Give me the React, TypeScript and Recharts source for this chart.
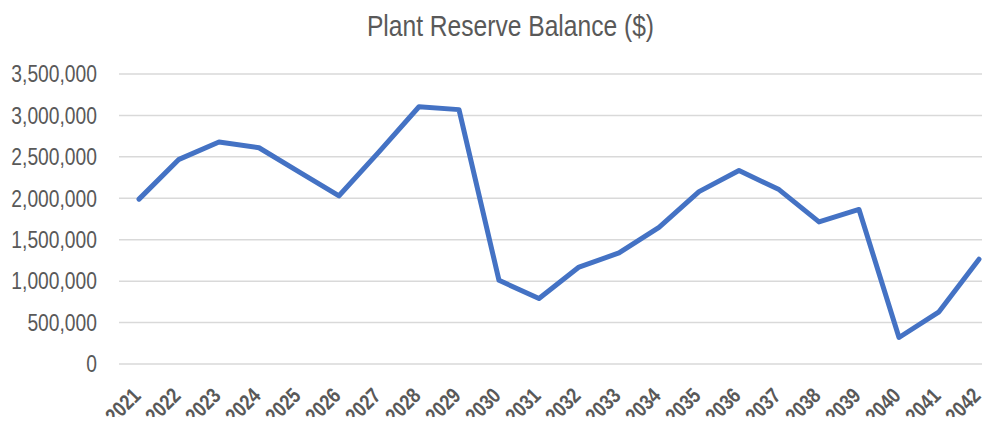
import { LineChart, Line, XAxis, YAxis, CartesianGrid } from "recharts";

const years = [
  "2021", "2022", "2023", "2024", "2025", "2026", "2027", "2028", "2029", "2030", "2031",
  "2032", "2033", "2034", "2035", "2036", "2037", "2038", "2039", "2040", "2041", "2042",
];

const balance = [
  1990000, 2470000, 2680000, 2610000, 2320000, 2030000, 2560000, 3105000, 3070000, 1010000, 790000,
  1170000, 1340000, 1650000, 2080000, 2335000, 2105000, 1715000, 1865000, 320000, 630000, 1265000,
];

const yTicks = [0, 500000, 1000000, 1500000, 2000000, 2500000, 3000000, 3500000];

// Arial Narrow look-alike: Liberation Sans squeezed horizontally
const FONT = '"Liberation Sans", Arial, sans-serif';
const NARROW = 0.82;

const data = years.map((year, i) => ({ year, value: balance[i] }));

const YearTick = (props: any) => {
  const { x, y, payload } = props;
  return (
    <g transform={`translate(${x + 3},${y + 33})`}>
      <text
        transform={`rotate(-45) scale(${NARROW},1)`}
        textAnchor="end"
        fill="#595959"
        fontFamily={FONT}
        fontWeight="bold"
        fontSize={21.5}
      >
        {payload.value}
      </text>
    </g>
  );
};

const ValueTick = (props: any) => {
  const { x, y, payload } = props;
  return (
    <text
      transform={`translate(${x},${y}) scale(${NARROW},1)`}
      textAnchor="end"
      dy="0.355em"
      fill="#595959"
      fontFamily={FONT}
      fontSize={23.5}
    >
      {Number(payload.value).toLocaleString("en-US")}
    </text>
  );
};

const App = () => {
  return (
    <div
      style={{
        position: "relative",
        margin: -8,
        width: 990,
        height: 425,
        overflow: "hidden",
        background: "#fff",
      }}
    >
      <div
        style={{
          position: "absolute",
          left: 0,
          top: 11,
          width: 1021,
          textAlign: "center",
          fontFamily: FONT,
          fontSize: 30,
          lineHeight: "30px",
          color: "#595959",
          transform: `scaleX(${NARROW})`,
        }}
      >
        Plant Reserve Balance ($)
      </div>
      <LineChart
        width={1010}
        height={425}
        data={data}
        margin={{ top: 74, right: 11, bottom: 0, left: 0 }}
      >
        <CartesianGrid vertical={false} stroke="#d9d9d9" strokeWidth={1.5} />
        <XAxis
          dataKey="year"
          interval={0}
          height={61}
          padding={{ left: 20, right: 20 }}
          axisLine={false}
          tickLine={false}
          tickSize={0}
          tickMargin={0}
          tick={<YearTick />}
        />
        <YAxis
          width={119}
          domain={[0, 3500000]}
          ticks={yTicks}
          axisLine={false}
          tickLine={false}
          tickSize={0}
          tickMargin={22}
          tick={<ValueTick />}
        />
        <Line
          type="linear"
          dataKey="value"
          stroke="#4472c4"
          strokeWidth={5}
          strokeLinejoin="round"
          strokeLinecap="round"
          dot={false}
          activeDot={false}
          isAnimationActive={false}
        />
      </LineChart>
    </div>
  );
};

export default App;
